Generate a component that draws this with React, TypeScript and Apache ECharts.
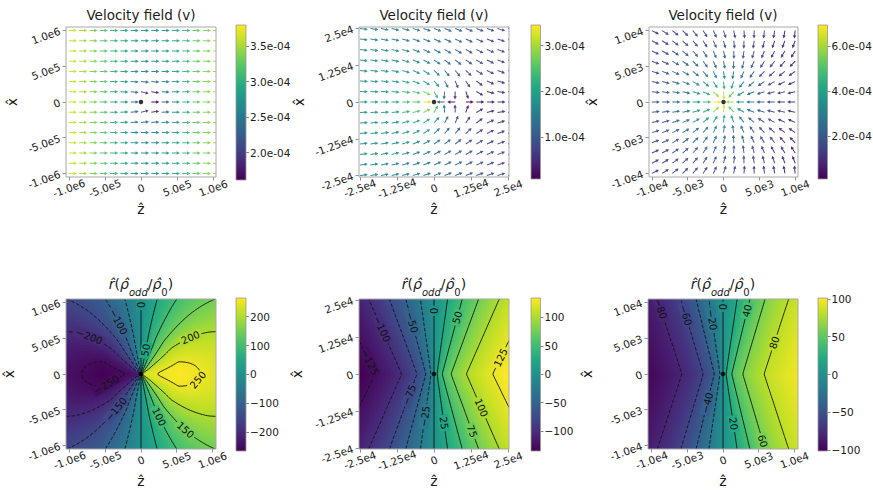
import React, { useEffect, useRef } from "react";
import * as echarts from "echarts";

const FONT = "DejaVu Sans";
const INK = "#1c1c1c";
const SPINE = "#a8a8a8";

/* ---------------- tick labels ---------------- */
const TICKS_1E6 = [-1e6, -5e5, 0, 5e5, 1e6];
const LABELS_1E6 = ["-1.0e6", "-5.0e5", "0", "5.0e5", "1.0e6"];
const TICKS_2E4 = [-2.5e4, -1.25e4, 0, 1.25e4, 2.5e4];
const LABELS_2E4 = ["-2.5e4", "-1.25e4", "0", "1.25e4", "2.5e4"];
const TICKS_1E4 = [-1e4, -5e3, 0, 5e3, 1e4];
const LABELS_1E4 = ["-1.0e4", "-5.0e3", "0", "5.0e3", "1.0e4"];

const CB_TL_TICKS = [2.0e-4, 2.5e-4, 3.0e-4, 3.5e-4];
const CB_TL_LABELS = ["2.0e-04", "2.5e-04", "3.0e-04", "3.5e-04"];
const CB_TM_TICKS = [1e-4, 2e-4, 3e-4];
const CB_TM_LABELS = ["1.0e-04", "2.0e-04", "3.0e-04"];
const CB_TR_TICKS = [2e-4, 4e-4, 6e-4];
const CB_TR_LABELS = ["2.0e-04", "4.0e-04", "6.0e-04"];
const CB_BL_TICKS = [-200, -100, 0, 100, 200];
const CB_BL_LABELS = ["\u2212200", "\u2212100", "0", "100", "200"];
const CB_B_TICKS = [-100, -50, 0, 50, 100];
const CB_B_LABELS = ["\u2212100", "\u221250", "0", "50", "100"];

/* colour ranges of the six colour bars */
const RANGE_TL = [1.617e-4, 3.795e-4];
const RANGE_TM = [0.09e-4, 3.45e-4];
const RANGE_TR = [0.1e-4, 6.92e-4];
const RANGE_BL = [-266, 265];
const RANGE_BM = [-135, 134];
const RANGE_BR = [-101, 101];

/* ---------------- velocity fields (speeds in units of 1e-4) ---------------- */
const ARROWS_PER_SIDE = 15;
const TL_COLUMN_SPEED = [3.62, 3.5, 3.36, 3.2, 3.04, 2.9, 2.78, 2.7, 2.72, 2.8, 2.94, 3.1, 3.26, 3.38, 3.48];
const TL_DIP_R = [0, 1.43e5, 2.86e5, 4.3e5, 6.4e5];
const TL_DIP = [0.3, 0.3, 0.14, 0.05, 0];
const TL_DIP_SKEW = 0.5;
const TL_TILT = [0.2, 0.16, 0.07, 0.02, 0];
const TM_STREAM_Z = [-2.5e4, 0, 2.5e4];
const TM_STREAM = [1.35, 1.2, 1.0];
const TM_INFLOW_R = [0, 3.57e3, 7.14e3, 1.07e4, 1.43e4, 1.79e4, 2.5e4, 3.6e4];
const TM_INFLOW = [2.1, 2.1, 1.35, 1.1, 0.8, 0.62, 0.45, 0.28];
const TR_STREAM_Z = [-1e4, 0, 1e4];
const TR_STREAM = [0.47, 0.47, 0.47];
const TR_INFLOW_R = [1.5e3, 3e3, 4.5e3, 6e3, 7.5e3, 9e3, 1.05e4, 1.5e4];
const TR_INFLOW = [6.4, 4.0, 3.0, 2.3, 2.0, 1.6, 1.33, 0.6];

/* ---------------- density fields ---------------- */
const BL_AMP_R = [0, 1e5, 2.3e5, 5.5e5, 8.3e5, 1.1e6, 1.5e6];
const BL_AMP = [225, 238, 250, 263, 250, 236, 212];
const BM_AXIS = [46, 1400]; // amplitude, length scale of the profile along z
const BM_SPREAD = [0.56, 3000]; // opening slope of contours, knee
const BR_AXIS = [30.5, 450];
const BR_SPREAD = [0.362, 600];

const BL_LEVELS = [-250, -200, -150, -100, -50, 0, 50, 100, 150, 200, 250];
const BM_LEVELS = [-125, -100, -75, -50, -25, 0, 25, 50, 75, 100, 125];
const BR_LEVELS = [-80, -60, -40, -20, 0, 20, 40, 60, 80];

/* contour labels: level, approximate z, approximate x */
const BL_LABELS = [
  [0, 3.2e4, 9.66e5], [-100, -2.48e5, 7.56e5], [-200, -6.9e5, 5.9e5], [200, 6.6e5, 5.7e5],
  [-250, -4.8e5, -1.54e5], [250, 8.0e5, -0.84e5], [-150, -3.4e5, -5.0e5], [100, 2.56e5, -5.97e5],
  [150, 5.84e5, -8.2e5], [50, 4.2e4, 3.36e5],
];
const BM_LABELS = [
  [-100, -1.74e4, 1.52e4], [-125, -2.02e4, 4.7e3], [-50, -7.4e3, 1.74e4], [0, 300, 2.13e4],
  [50, 7.6e3, 1.91e4], [125, 2.09e4, 6.3e3], [-75, -8.6e3, -7e3], [-25, -3.6e3, -1.42e4],
  [25, 4.2e3, -1.64e4], [100, 1.59e4, -1.14e4], [75, 1.31e4, -1.92e4],
];
const BR_LABELS = [
  [-80, -9.3e3, 8.96e3], [-60, -6.0e3, 8.0e3], [-20, -1.6e3, 7.56e3], [0, 200, 9.4e3],
  [40, 3.9e3, 8.7e3], [80, 7.5e3, 4.3e3], [-40, -2.76e3, -3.9e3], [20, 1.78e3, -6.9e3],
  [60, 6.8e3, -9.0e3],
];

/* ---------------- colour map ---------------- */
const VIRIDIS = ["#440154", "#482475", "#414487", "#355f8d", "#2a788e", "#21918c", "#22a884", "#44bf70", "#7ad151", "#bddf26", "#fde725"];
const VIR_RGB = VIRIDIS.map((h) => [parseInt(h.slice(1, 3), 16), parseInt(h.slice(3, 5), 16), parseInt(h.slice(5, 7), 16)]);
function viridis(t: number): string {
  const u = Math.max(0, Math.min(1, t)) * 10;
  const i = Math.min(9, Math.floor(u));
  const f = u - i;
  const a = VIR_RGB[i], b = VIR_RGB[i + 1];
  return `rgb(${Math.round(a[0] + (b[0] - a[0]) * f)},${Math.round(a[1] + (b[1] - a[1]) * f)},${Math.round(a[2] + (b[2] - a[2]) * f)})`;
}

function interp(xs: number[], ys: number[], v: number): number {
  if (v <= xs[0]) return ys[0];
  for (let i = 0; i < xs.length - 1; i++) {
    if (v <= xs[i + 1]) return ys[i] + ((ys[i + 1] - ys[i]) * (v - xs[i])) / (xs[i + 1] - xs[i]);
  }
  return ys[ys.length - 1];
}

type Field = (z: number, x: number) => number;
const fieldBL: Field = (z, x) => {
  const r = Math.hypot(z, x);
  return r === 0 ? 0 : (z / r) * interp(BL_AMP_R, BL_AMP, r);
};
const axisField = (axis: number[], spread: number[]): Field => (z, x) => {
  const az = Math.abs(z), ax = Math.abs(x);
  const zh = spread[1];
  const B = zh + spread[0] * ax - az;
  const sq = Math.sqrt(B * B + 4 * az * zh);
  const w = B > 0 ? (2 * az * zh) / (B + sq) : (-B + sq) / 2;
  return Math.sign(z) * axis[0] * Math.log(1 + w / axis[1]);
};
const fieldBM = axisField(BM_AXIS, BM_SPREAD);
const fieldBR = axisField(BR_AXIS, BR_SPREAD);

type Vel = (z: number, x: number, i: number) => number[];
const velTL: Vel = (z, x, i) => {
  const r = Math.hypot(z, x);
  const U = TL_COLUMN_SPEED[i];
  const dip = r === 0 ? 0 : interp(TL_DIP_R, TL_DIP, r) * (1 + (TL_DIP_SKEW * z) / r);
  const tilt = interp(TL_DIP_R, TL_TILT, r);
  return [U * (1 - dip), r === 0 ? 0 : -(x / r) * tilt * U];
};
const sinkVel = (UZ: number[], U: number[], R: number[], S: number[]): Vel => (z, x) => {
  const r = Math.hypot(z, x);
  const s = interp(R, S, r);
  return [interp(UZ, U, z) - (s * z) / r, (-s * x) / r];
};
const velTM = sinkVel(TM_STREAM_Z, TM_STREAM, TM_INFLOW_R, TM_INFLOW);
const velTR = sinkVel(TR_STREAM_Z, TR_STREAM, TR_INFLOW_R, TR_INFLOW);

/* ---------------- contour extraction (marching squares) ---------------- */
type Line = { level: number; pts: number[][] };
function contourLines(f: Field, xr: number[], yr: number[], levels: number[], n: number): Line[] {
  const zs: number[] = [], xs: number[] = [];
  for (let i = 0; i < n; i++) {
    zs.push(xr[0] + ((xr[1] - xr[0]) * i) / (n - 1));
    xs.push(yr[0] + ((yr[1] - yr[0]) * i) / (n - 1));
  }
  const V: number[][] = zs.map((z) => xs.map((x) => f(z, x)));
  const out: Line[] = [];
  for (const c of levels) {
    const P = new Map<string, number[]>();
    const segs: string[][] = [];
    const edge = (i1: number, j1: number, i2: number, j2: number, key: string) => {
      const a = V[i1][j1], b = V[i2][j2];
      if ((a >= c) === (b >= c)) return null;
      if (!P.has(key)) {
        const t = (c - a) / (b - a);
        P.set(key, [zs[i1] + (zs[i2] - zs[i1]) * t, xs[j1] + (xs[j2] - xs[j1]) * t]);
      }
      return key;
    };
    for (let i = 0; i < n - 1; i++) {
      for (let j = 0; j < n - 1; j++) {
        const e0 = edge(i, j, i + 1, j, `h${i}_${j}`);
        const e1 = edge(i + 1, j, i + 1, j + 1, `v${i + 1}_${j}`);
        const e2 = edge(i, j + 1, i + 1, j + 1, `h${i}_${j + 1}`);
        const e3 = edge(i, j, i, j + 1, `v${i}_${j}`);
        const list = [e0, e1, e2, e3].filter((e) => e !== null) as string[];
        if (list.length === 2) segs.push(list);
        else if (list.length === 4) {
          const center = (V[i][j] + V[i + 1][j] + V[i + 1][j + 1] + V[i][j + 1]) / 4;
          if ((center >= c) === (V[i][j] >= c)) {
            segs.push([e0!, e1!]);
            segs.push([e2!, e3!]);
          } else {
            segs.push([e0!, e3!]);
            segs.push([e1!, e2!]);
          }
        }
      }
    }
    const adj = new Map<string, number[]>();
    segs.forEach((s, k) => s.forEach((key) => {
      if (!adj.has(key)) adj.set(key, []);
      adj.get(key)!.push(k);
    }));
    const used = new Array(segs.length).fill(false);
    const walk = (start: number, startKey: string) => {
      const pts = [P.get(startKey)!];
      let seg = start, key = startKey;
      while (seg !== -1 && !used[seg]) {
        used[seg] = true;
        const other = segs[seg][0] === key ? segs[seg][1] : segs[seg][0];
        pts.push(P.get(other)!);
        key = other;
        const nx = adj.get(key)!.filter((s) => !used[s]);
        seg = nx.length ? nx[0] : -1;
      }
      return pts;
    };
    adj.forEach((list, key) => {
      if (list.length === 1 && !used[list[0]]) out.push({ level: c, pts: walk(list[0], key) });
    });
    for (let k = 0; k < segs.length; k++) if (!used[k]) out.push({ level: c, pts: walk(k, segs[k][0]) });
  }
  return out;
}

function placeLabel(f: Field, c: number, z0: number, x0: number, ext: number) {
  let z = z0, x = x0;
  const h = ext * 1e-4;
  const grad = (pz: number, px: number) => [
    (f(pz + h, px) - f(pz - h, px)) / (2 * h),
    (f(pz, px + h) - f(pz, px - h)) / (2 * h),
  ];
  for (let it = 0; it < 15; it++) {
    const v = f(z, x) - c;
    const [fz, fx] = grad(z, x);
    const g2 = fz * fz + fx * fx;
    if (g2 === 0) break;
    let sz = (v * fz) / g2, sx = (v * fx) / g2;
    const sl = Math.hypot(sz, sx), lim = ext * 0.08;
    if (sl > lim) { sz *= lim / sl; sx *= lim / sl; }
    z -= sz; x -= sx;
  }
  const [fz, fx] = grad(z, x);
  let rot = Math.atan2(fz, -fx);
  if (rot > Math.PI / 2) rot -= Math.PI;
  if (rot < -Math.PI / 2) rot += Math.PI;
  return { z, x, rot };
}

/* ---------------- panel layout ---------------- */
type Panel = {
  left: number; top: number; width: number; height: number;
  xr: number[]; yr: number[]; ticks: number[]; labels: string[];
  gapX: number; gapY: number;
  cb: number[]; cbTicks: number[]; cbLabels: string[]; range: number[];
};
const PANELS: Panel[] = [
  { left: 66, top: 27, width: 150, height: 150, xr: [-1.04e6, 1.04e6], yr: [-1.05e6, 1.05e6], ticks: TICKS_1E6, labels: LABELS_1E6, gapX: 25, gapY: 47, cb: [236, 25, 10, 155], cbTicks: CB_TL_TICKS, cbLabels: CB_TL_LABELS, range: RANGE_TL },
  { left: 359, top: 27, width: 150, height: 150, xr: [-2.53e4, 2.53e4], yr: [-2.55e4, 2.55e4], ticks: TICKS_2E4, labels: LABELS_2E4, gapX: 25, gapY: 53, cb: [531, 25, 9.5, 154], cbTicks: CB_TM_TICKS, cbLabels: CB_TM_LABELS, range: RANGE_TM },
  { left: 649, top: 27, width: 149, height: 150, xr: [-1.04e4, 1.04e4], yr: [-1.05e4, 1.05e4], ticks: TICKS_1E4, labels: LABELS_1E4, gapX: 25, gapY: 50, cb: [818, 25, 9.5, 154], cbTicks: CB_TR_TICKS, cbLabels: CB_TR_LABELS, range: RANGE_TR },
  { left: 66, top: 299, width: 150, height: 150, xr: [-1.05e6, 1.05e6], yr: [-1.05e6, 1.05e6], ticks: TICKS_1E6, labels: LABELS_1E6, gapX: 25, gapY: 50, cb: [236, 298, 10, 153], cbTicks: CB_BL_TICKS, cbLabels: CB_BL_LABELS, range: RANGE_BL },
  { left: 359, top: 299, width: 150, height: 150, xr: [-2.53e4, 2.53e4], yr: [-2.53e4, 2.53e4], ticks: TICKS_2E4, labels: LABELS_2E4, gapX: 25, gapY: 55, cb: [531, 298, 9.5, 153], cbTicks: CB_B_TICKS, cbLabels: CB_B_LABELS, range: RANGE_BM },
  { left: 648, top: 299, width: 150, height: 150, xr: [-1.05e4, 1.05e4], yr: [-1.05e4, 1.05e4], ticks: TICKS_1E4, labels: LABELS_1E4, gapX: 25, gapY: 54, cb: [818, 298, 9.5, 153], cbTicks: CB_B_TICKS, cbLabels: CB_B_LABELS, range: RANGE_BR },
];
const QUIVER_EXT = [1e6, 2.5e4, 1e4];
const QUIVER_VEL = [velTL, velTM, velTR];
const DENSITY = [
  { f: fieldBL, levels: BL_LEVELS, labels: BL_LABELS },
  { f: fieldBM, levels: BM_LEVELS, labels: BM_LABELS },
  { f: fieldBR, levels: BR_LEVELS, labels: BR_LABELS },
];

const fmtFrom = (ticks: number[], labels: string[]) => (v: number) => {
  for (let i = 0; i < ticks.length; i++) {
    if (Math.abs(ticks[i] - v) <= 1e-12 + 1e-6 * Math.abs(ticks[i])) return labels[i];
  }
  return "";
};
const levelText = (c: number) => (c < 0 ? "\u2212" + Math.abs(c) : String(c));

function buildOption() {
  const grid: any[] = [], xAxis: any[] = [], yAxis: any[] = [], series: any[] = [];
  PANELS.forEach((P, k) => {
    const gi = xAxis.length;
    const ci = gi + 1;
    grid.push({ left: P.left, top: P.top, width: P.width, height: P.height, outerBoundsMode: "none" });
    grid.push({ left: P.cb[0], top: P.cb[1], width: P.cb[2], height: P.cb[3], outerBoundsMode: "none" });
    const fmt = fmtFrom(P.ticks, P.labels);
    const tickStyle = { show: true, inside: false, length: 3.5, lineStyle: { color: "#777", width: 0.8 }, customValues: P.ticks };
    xAxis.push({
      gridIndex: gi, type: "value", min: P.xr[0], max: P.xr[1],
      axisLine: { show: false, onZero: false }, splitLine: { show: false },
      axisTick: tickStyle,
      axisLabel: { customValues: P.ticks, formatter: fmt, rotate: 20, align: "center", verticalAlign: "middle", margin: 11, fontSize: 10.5, color: INK, fontFamily: FONT },
      name: "\u1E91", nameLocation: "middle", nameGap: P.gapX,
      nameTextStyle: { fontSize: 14, color: INK, fontFamily: FONT, verticalAlign: "top" },
    });
    yAxis.push({
      gridIndex: gi, type: "value", min: P.yr[0], max: P.yr[1],
      axisLine: { show: false, onZero: false }, splitLine: { show: false },
      axisTick: tickStyle,
      axisLabel: { customValues: P.ticks, formatter: fmt, rotate: 20, align: "right", verticalAlign: "middle", margin: 6, fontSize: 10.5, color: INK, fontFamily: FONT },
      name: "x\u0302", nameLocation: "middle", nameGap: P.gapY, nameRotate: 90,
      nameTextStyle: { fontSize: 14, color: INK, fontFamily: FONT },
    });
    xAxis.push({ gridIndex: ci, type: "value", min: 0, max: 1, show: false });
    yAxis.push({
      gridIndex: ci, type: "value", min: P.range[0], max: P.range[1], position: "right",
      axisLine: { show: false, onZero: false }, splitLine: { show: false },
      axisTick: { show: true, length: 3, lineStyle: { color: "#666", width: 0.8 }, customValues: P.cbTicks },
      axisLabel: { customValues: P.cbTicks, formatter: fmtFrom(P.cbTicks, P.cbLabels), margin: 4, fontSize: 10.5, color: INK, fontFamily: FONT },
    });

    const [vmin, vmax] = P.range;
    const norm = (v: number) => (v - vmin) / (vmax - vmin);

    if (k < 3) {
      const ext = QUIVER_EXT[k];
      const vel = QUIVER_VEL[k];
      const arrows: number[][] = [];
      const cols: string[] = [];
      const half = (ARROWS_PER_SIDE - 1) / 2;
      for (let i = 0; i < ARROWS_PER_SIDE; i++) {
        for (let j = 0; j < ARROWS_PER_SIDE; j++) {
          if (i === half && j === half) continue;
          const z = -ext + (2 * ext * i) / (ARROWS_PER_SIDE - 1);
          const x = -ext + (2 * ext * j) / (ARROWS_PER_SIDE - 1);
          const [vz, vx] = vel(z, x, i);
          const s = Math.hypot(vz, vx) * 1e-4;
          arrows.push([z, x, vz, vx, s]);
          cols.push(viridis(norm(s)));
        }
      }
      series.push({
        type: "custom", xAxisIndex: gi, yAxisIndex: gi, clip: true, silent: true, progressive: 0, z: 3,
        data: arrows, encode: { x: 0, y: 1 },
        renderItem: (params: any, api: any) => {
          const d = arrows[params.dataIndex];
          const p = api.coord([d[0], d[1]]);
          const m = Math.hypot(d[2], d[3]) || 1;
          const dx = d[2] / m, dy = -d[3] / m;
          const L = 8, hl = 3.2, hw = 1.7, w = 0.5;
          const loc = [[0, -w], [L - hl, -w], [L - hl, -hw], [L, 0], [L - hl, hw], [L - hl, w], [0, w]];
          const pts = loc.map(([u, v]) => [p[0] + u * dx - v * dy, p[1] + u * dy + v * dx]);
          return { type: "polygon", shape: { points: pts }, style: { fill: cols[params.dataIndex], opacity: 0.92 } };
        },
      });
    } else {
      const D = DENSITY[k - 3];
      const N = 75;
      const dz = (P.xr[1] - P.xr[0]) / N, dxx = (P.yr[1] - P.yr[0]) / N;
      const cells: number[][] = [];
      const cellCols: string[] = [];
      for (let i = 0; i < N; i++) {
        for (let j = 0; j < N; j++) {
          const z = P.xr[0] + (i + 0.5) * dz;
          const x = P.yr[0] + (j + 0.5) * dxx;
          const v = D.f(z, x);
          cells.push([z, x, v]);
          cellCols.push(viridis(norm(v)));
        }
      }
      series.push({
        type: "custom", xAxisIndex: gi, yAxisIndex: gi, clip: true, silent: true, progressive: 0, z: 1,
        data: cells, encode: { x: 0, y: 1 },
        renderItem: (params: any, api: any) => {
          const d = cells[params.dataIndex];
          const a = api.coord([d[0] - dz / 2, d[1] + dxx / 2]);
          const b = api.coord([d[0] + dz / 2, d[1] - dxx / 2]);
          const col = cellCols[params.dataIndex];
          return { type: "rect", shape: { x: a[0], y: a[1], width: b[0] - a[0] + 0.3, height: b[1] - a[1] + 0.3 }, style: { fill: col } };
        },
      });
      const lines = contourLines(D.f, P.xr, P.yr, D.levels, 90);
      series.push({
        type: "custom", xAxisIndex: gi, yAxisIndex: gi, clip: true, silent: true, progressive: 0, z: 2,
        data: lines.map((l, i) => [l.pts[0][0], l.pts[0][1], i]), encode: { x: 0, y: 1 },
        renderItem: (params: any, api: any) => {
          const l = lines[params.dataIndex];
          return {
            type: "polyline",
            shape: { points: l.pts.map((p) => api.coord(p)) },
            style: { stroke: "#111", lineWidth: 0.9, fill: "none", lineDash: l.level < 0 ? [3.6, 1.8] : null },
          };
        },
      });
      const ext = P.xr[1];
      const labs = D.labels.map(([c, z, x]) => {
        const q = placeLabel(D.f, c, z, x, ext);
        return { ...q, text: levelText(c), col: viridis(norm(c)) };
      });
      series.push({
        type: "custom", xAxisIndex: gi, yAxisIndex: gi, clip: true, silent: true, progressive: 0, z: 3,
        data: labs.map((l) => [l.z, l.x]), encode: { x: 0, y: 1 },
        renderItem: (params: any, api: any) => {
          const l = labs[params.dataIndex];
          const p = api.coord([l.z, l.x]);
          return {
            type: "text", x: p[0], y: p[1], rotation: l.rot,
            style: { text: l.text, fill: "#111", fontSize: 10, fontFamily: FONT, align: "center", verticalAlign: "middle", backgroundColor: l.col, padding: [0, 2] },
          };
        },
      });
    }
    series.push({
      type: "custom", xAxisIndex: gi, yAxisIndex: gi, silent: true, z: 5, progressive: 0,
      data: [[P.xr[0], P.yr[1]]], encode: { x: 0, y: 1 },
      renderItem: (params: any, api: any) => {
        const a = api.coord([P.xr[0], P.yr[1]]);
        const b = api.coord([P.xr[1], P.yr[0]]);
        return { type: "rect", shape: { x: a[0], y: a[1], width: b[0] - a[0], height: b[1] - a[1] }, style: { fill: "none", stroke: SPINE, lineWidth: 1 } };
      },
    });
    series.push({
      type: "scatter", xAxisIndex: gi, yAxisIndex: gi, silent: true, z: 6,
      data: [[0, 0]], symbolSize: 4.5, itemStyle: { color: "#000" },
    });
    const stops = VIRIDIS.map((c, i) => ({ offset: i / 10, color: c }));
    series.push({
      type: "custom", xAxisIndex: ci, yAxisIndex: ci, silent: true, z: 2, progressive: 0,
      data: [[0.5, (vmin + vmax) / 2]], encode: { x: 0, y: 1 },
      renderItem: (params: any, api: any) => {
        const a = api.coord([0, vmax]);
        const b = api.coord([1, vmin]);
        return {
          type: "rect", shape: { x: a[0], y: a[1], width: b[0] - a[0], height: b[1] - a[1] },
          style: { fill: new echarts.graphic.LinearGradient(0, 1, 0, 0, stops), stroke: "#999", lineWidth: 0.8 },
        };
      },
    });
  });

  const titleX = [141, 434, 723];
  const graphic: any[] = [];
  titleX.forEach((x) => {
    graphic.push({
      type: "text", x, y: 15,
      style: { text: "Velocity field (v)", fontSize: 13.5, fontFamily: FONT, fill: INK, align: "center", verticalAlign: "middle" },
    });
    graphic.push({
      type: "text", x, y: 287,
      style: {
        text: "{m|r\u0302}{p|(}{m|\u03C1\u0302}{s|odd}{p|/}{m|\u03C1\u0302}{d|0}{p|)}",
        align: "center", verticalAlign: "middle", fill: INK,
        rich: {
          m: { fontSize: 14, fontStyle: "italic", fontFamily: FONT, fill: INK, lineHeight: 20, verticalAlign: "top" },
          p: { fontSize: 14, fontFamily: FONT, fill: INK, lineHeight: 20, verticalAlign: "top" },
          s: { fontSize: 10, fontStyle: "italic", fontFamily: FONT, fill: INK, lineHeight: 10, verticalAlign: "bottom" },
          d: { fontSize: 10, fontFamily: FONT, fill: INK, lineHeight: 10, verticalAlign: "bottom" },
        },
      },
    });
  });

  return { animation: false, backgroundColor: "#fff", grid, xAxis, yAxis, series, graphic };
}

export default function App() {
  const ref = useRef<HTMLDivElement>(null);
  useEffect(() => {
    if (!ref.current) return;
    const chart = echarts.init(ref.current, null, { renderer: "svg" });
    chart.setOption(buildOption() as any);
    return () => chart.dispose();
  }, []);
  return <div ref={ref} style={{ position: "absolute", left: 0, top: 0, width: 873, height: 490 }} />;
}
